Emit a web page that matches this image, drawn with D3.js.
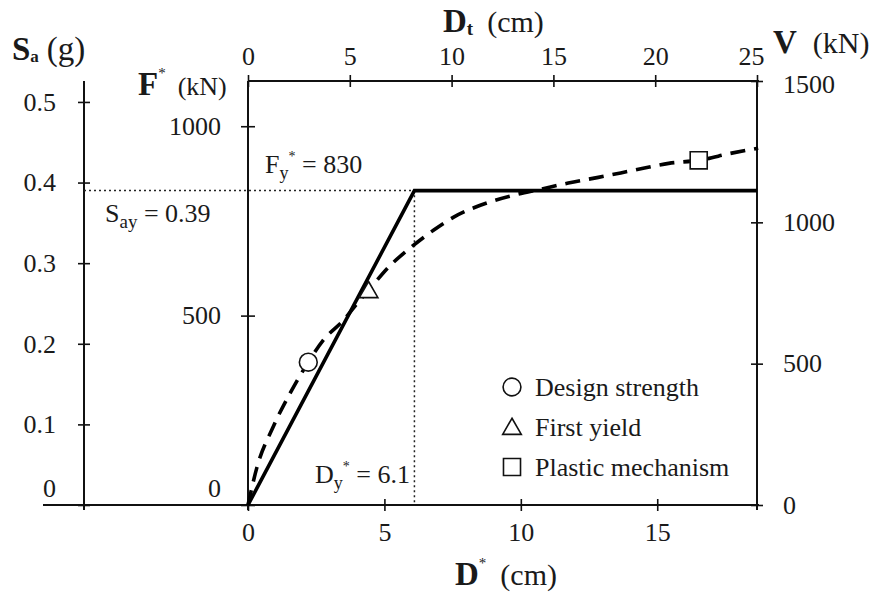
<!DOCTYPE html>
<html lang="en">
<head>
<meta charset="utf-8"/>
<title>Capacity curve</title>
<style>
  * { margin: 0; padding: 0; }
  body { background: #fff; }
  svg { display: block; }
  text { font-family: "Liberation Serif", "DejaVu Serif", serif; fill: #1a1a1a; }
  .tick-label { font-size: 26px; }
  .title { font-size: 30px; }
  .title .b { font-weight: bold; font-size: 33px; }
</style>
<script src="https://d3js.org/d3.v7.min.js"></script>
</head>
<body>
<svg id="chart" width="874" height="595"></svg>
<script>
// transformation factor between MDOF and SDOF system
const gamma = 1.34;
const Fy = 830;          // kN
const Dy = 6.1;          // cm
const Say = 0.39;        // g

// tick values
const saTicks = [0, 0.1, 0.2, 0.3, 0.4, 0.5];
const fTicks = [0, 500, 1000];
const dTicks = [0, 5, 10, 15];
const dtTicks = [0, 5, 10, 15, 20, 25];
const vTicks = [0, 500, 1000, 1500];

// pushover capacity curve (SDOF)
const capD = [0, 0.33, 0.92, 1.55, 2.21, 2.76, 3.50, 4.01, 4.42, 5.22, 5.85, 6.81, 7.54, 8.54, 9.75, 10.74, 11.74, 12.84, 14.16, 15.42, 16.52, 17.73, 18.7];
const capF = [0, 100, 206, 296, 377, 435, 488, 533, 567, 633, 673, 726, 760, 792, 818, 834, 850, 865, 884, 902, 910, 929, 942];

// performance points
const markD = [2.21, 4.42, 16.52];
const markF = [377, 567, 910];
const markSym = ["circle", "triangle", "square"];
const legendLabels = ["Design strength", "First yield", "Plastic mechanism"];

const svg = d3.select("#chart");

const x0 = 248, x1 = 757, yTop = 81, yBot = 505, xSa = 84;
const dMax = 25 / gamma;
const fMax = 1500 / gamma;
const saMax = Say * fMax / Fy;

const xD = d3.scaleLinear().domain([0, dMax]).range([x0, x1]);
const xDt = d3.scaleLinear().domain([0, 25]).range([x0, x1]);
const yF = d3.scaleLinear().domain([0, fMax]).range([yBot, yTop]);
const yV = d3.scaleLinear().domain([0, 1500]).range([yBot, yTop]);
const ySa = d3.scaleLinear().domain([0, saMax]).range([yBot, yTop]);

// frame lines
const frame = svg.append("g").attr("stroke", "#111").attr("stroke-width", 2).attr("fill", "none");
frame.append("line").attr("x1", 43).attr("x2", x1 + 2).attr("y1", yBot).attr("y2", yBot);
frame.append("line").attr("x1", x0).attr("x2", x1 + 2).attr("y1", yTop).attr("y2", yTop);
frame.append("line").attr("x1", x0).attr("x2", x0).attr("y1", yTop).attr("y2", yBot + 5);
frame.append("line").attr("x1", x1).attr("x2", x1).attr("y1", yTop).attr("y2", yBot + 5);
frame.append("line").attr("x1", xSa).attr("x2", xSa).attr("y1", yTop).attr("y2", yBot + 5);

function styleAxis(g) {
  g.select(".domain").remove();
  g.selectAll(".tick line").attr("stroke", "#111").attr("stroke-width", 1.6);
  g.selectAll(".tick text").attr("class", "tick-label").attr("fill", "#1a1a1a");
}

const intFmt = d3.format("d");

// Sa axis (left)
svg.append("g").attr("transform", `translate(${xSa},0)`)
  .call(d3.axisLeft(ySa).tickValues(saTicks).tickSize(6).tickPadding(22).tickFormat(d3.format(".1~f")))
  .call(styleAxis)
  .call(g => g.selectAll(".tick line").attr("x1", 6))
  .call(g => g.selectAll(".tick text").filter(d => d === 0).attr("y", -17));

// F* axis
svg.append("g").attr("transform", `translate(${x0},0)`)
  .call(d3.axisLeft(yF).tickValues(fTicks).tickSize(7).tickPadding(20).tickFormat(intFmt))
  .call(styleAxis)
  .call(g => g.selectAll(".tick line").attr("x1", 7))
  .call(g => g.selectAll(".tick text").filter(d => d === 0).attr("y", -17));

// D* axis (bottom)
svg.append("g").attr("transform", `translate(0,${yBot})`)
  .call(d3.axisBottom(xD).tickValues(dTicks).tickSize(6).tickPadding(12).tickFormat(intFmt))
  .call(styleAxis)
  .call(g => g.selectAll(".tick line").attr("y1", -6));

// Dt axis (top)
svg.append("g").attr("transform", `translate(0,${yTop})`)
  .call(d3.axisTop(xDt).tickValues(dtTicks).tickSize(6).tickPadding(10).tickFormat(intFmt))
  .call(styleAxis)
  .call(g => g.selectAll(".tick line").attr("y1", 6))
  .call(g => g.selectAll(".tick text").filter(d => d === 25).attr("dx", -6));

// V axis (right)
svg.append("g").attr("transform", `translate(${x1},0)`)
  .call(d3.axisRight(yV).tickValues(vTicks).tickSize(6).tickPadding(20).tickFormat(intFmt))
  .call(styleAxis)
  .call(g => g.selectAll(".tick line").attr("x1", -6))
  .call(g => g.selectAll(".tick text").filter(d => d === 1500).attr("dy", "0.45em"));

// dotted reference lines
svg.append("path")
  .attr("d", `M${xSa},${yF(Fy)}H${xD(Dy)}V${yBot}`)
  .attr("fill", "none").attr("stroke", "#222").attr("stroke-width", 1.5)
  .attr("stroke-dasharray", "2,3");

// bilinear idealisation
const bilinear = [[0, 0], [Dy, Fy], [dMax, Fy]];
svg.append("path")
  .attr("d", d3.line().x(d => xD(d[0])).y(d => yF(d[1]))(bilinear))
  .attr("fill", "none").attr("stroke", "#000").attr("stroke-width", 3.6)
  .attr("stroke-linejoin", "miter");

// capacity curve
const capPts = capD.map((d, i) => [d, capF[i]]);
svg.append("path")
  .attr("d", d3.line().curve(d3.curveMonotoneX).x(d => xD(d[0])).y(d => yF(d[1]))(capPts))
  .attr("fill", "none").attr("stroke", "#000").attr("stroke-width", 3.6)
  .attr("stroke-dasharray", "15,9");

// markers
const symType = { circle: d3.symbolCircle, triangle: d3.symbolTriangle, square: d3.symbolSquare };
const symSize = { circle: 250, triangle: 150, square: 290 };
function sym(s) { return d3.symbol().type(symType[s]).size(symSize[s])(); }

svg.append("g").selectAll("path")
  .data(markD.map((d, i) => ({ d: d, f: markF[i], s: markSym[i] })))
  .join("path")
  .attr("transform", d => `translate(${xD(d.d)},${yF(d.f) + (d.s === "triangle" ? 2 : 0)})`)
  .attr("d", d => sym(d.s))
  .attr("fill", "#fff").attr("stroke", "#111").attr("stroke-width", 1.6);

// legend
const leg = svg.append("g").selectAll("g")
  .data(legendLabels.map((l, i) => ({ l: l, s: markSym[i] })))
  .join("g")
  .attr("transform", (d, i) => `translate(512,${387 + i * 40})`);
leg.append("path").attr("d", d => sym(d.s))
  .attr("transform", d => d.s === "triangle" ? "translate(0,2)" : null)
  .attr("fill", "#fff").attr("stroke", "#111").attr("stroke-width", 1.6);
leg.append("text").attr("x", 23).attr("y", 9).attr("class", "tick-label").text(d => d.l);

// annotations
const ann = svg.append("g").attr("class", "tick-label");
const tFy = ann.append("text").attr("x", 265).attr("y", 173);
tFy.append("tspan").text("F");
tFy.append("tspan").attr("dy", 6).style("font-size", "18px").text("y");
tFy.append("tspan").attr("dy", -18).style("font-size", "14px").text("*");
tFy.append("tspan").attr("dy", 12).text(" = 830");

const tSa = ann.append("text").attr("x", 105).attr("y", 222);
tSa.append("tspan").text("S");
tSa.append("tspan").attr("dy", 6).style("font-size", "19px").text("ay");
tSa.append("tspan").attr("dy", -6).text(" = 0.39");

const tDy = ann.append("text").attr("x", 315).attr("y", 483);
tDy.append("tspan").text("D");
tDy.append("tspan").attr("dy", 6).style("font-size", "18px").text("y");
tDy.append("tspan").attr("dy", -18).style("font-size", "14px").text("*");
tDy.append("tspan").attr("dy", 12).text(" = 6.1");

// axis titles
const tS = svg.append("text").attr("class", "title").attr("x", 12).attr("y", 60);
tS.append("tspan").attr("class", "b").text("S");
tS.append("tspan").attr("dy", 2).style("font-size", "17px").style("font-weight", "bold").text("a");
tS.append("tspan").attr("dy", -2).attr("dx", 8).style("font-size", "33px").text("(g)");

const tF = svg.append("text").attr("class", "title").attr("x", 138).attr("y", 95);
tF.append("tspan").attr("class", "b").text("F");
tF.append("tspan").attr("dy", -17).style("font-size", "15px").text("*");
tF.append("tspan").attr("dy", 17).attr("dx", 12).style("font-size", "26px").text("(kN)");

const tDt = svg.append("text").attr("class", "title").attr("x", 443).attr("y", 32);
tDt.append("tspan").attr("class", "b").text("D");
tDt.append("tspan").attr("dy", 3).style("font-size", "19px").style("font-weight", "bold").text("t");
tDt.append("tspan").attr("dy", -3).attr("dx", 14).text("(cm)");

const tV = svg.append("text").attr("class", "title").attr("x", 773).attr("y", 53);
tV.append("tspan").attr("class", "b").text("V");
tV.append("tspan").attr("dx", 16).text("(kN)");

const tD = svg.append("text").attr("class", "title").attr("x", 455).attr("y", 585);
tD.append("tspan").attr("class", "b").text("D");
tD.append("tspan").attr("dy", -17).style("font-size", "15px").text("*");
tD.append("tspan").attr("dy", 17).attr("dx", 14).text("(cm)");
</script>
</body>
</html>
